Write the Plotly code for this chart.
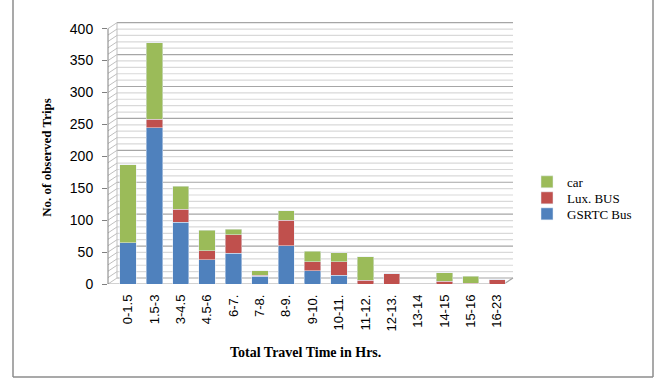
import plotly.graph_objects as go

categories = ["0-1.5", "1.5-3", "3-4.5", "4.5-6", "6-7.", "7-8.", "8-9.", "9-10.",
              "10-11.", "11-12.", "12-13.", "13-14", "14-15", "15-16", "16-23"]
gsrtc_bus = [65, 245, 97, 38, 48, 12, 60, 21, 14, 0, 0, 0, 0, 0, 0]
lux_bus = [0, 13, 20, 14, 29, 2, 40, 14, 21, 6, 16, 0, 4, 1, 7]
car = [122, 120, 36, 32, 9, 7, 15, 16, 14, 37, 0, 0, 14, 11, 0]
y_ticks = [0, 50, 100, 150, 200, 250, 300, 350, 400]

# layout geometry (pixels)
W, H = 659, 378
PL, PR, PT, PB = 108, 513, 21.35, 284
pw, ph = PR - PL, PB - PT
def px(x):
    return (x - PL) / pw
def py(y):
    return (PB - y) / ph

DEPTH = 9.4      # 3D depth offset in value units
DX = 9 / pw      # 3D depth offset in paper units

fig = go.Figure()
fig.add_bar(x=categories, y=gsrtc_bus, name="GSRTC Bus", marker_color="#4F81BD", legend="legend3")
fig.add_bar(x=categories, y=lux_bus, name="Lux. BUS", marker_color="#C0504D", legend="legend2")
fig.add_bar(x=categories, y=car, name="car", marker_color="#9BBB59", legend="legend")

shapes = []
for v in range(0, 401, 10):
    major = v % 50 == 0
    col = "#a6a6a6" if major else "#d9d9d9"
    shapes.append(dict(type="line", xref="paper", yref="y", x0=DX, x1=1,
                       y0=v + DEPTH, y1=v + DEPTH, line=dict(color=col, width=1.2),
                       layer="below"))
    shapes.append(dict(type="line", xref="paper", yref="y", x0=0, x1=DX,
                       y0=v, y1=v + DEPTH, line=dict(color="#bfbfbf", width=1),
                       layer="below"))
# back wall left edge and floor
shapes.append(dict(type="line", xref="paper", yref="y", x0=DX, x1=DX, y0=DEPTH, y1=400 + DEPTH,
                   line=dict(color="#bfbfbf", width=1), layer="below"))
shapes.append(dict(type="line", xref="paper", yref="y", x0=0, x1=1 - DX, y0=0, y1=0,
                   line=dict(color="#a6a6a6", width=1.2), layer="below"))
shapes.append(dict(type="line", xref="paper", yref="y", x0=1 - DX, x1=1, y0=0, y1=DEPTH,
                   line=dict(color="#a6a6a6", width=1.2), layer="below"))
# y axis line
shapes.append(dict(type="line", xref="paper", yref="y", x0=0, x1=0, y0=0, y1=400,
                   line=dict(color="#808080", width=1)))
# outer frame
fl, fr, fb, ft = px(13), px(653), py(377), py(-2)
for (x0, y0, x1, y1) in [(fl, fb, fl, ft), (fl, fb, fr, fb), (fr, fb, fr, ft)]:
    shapes.append(dict(type="line", xref="paper", yref="paper", x0=x0, y0=y0, x1=x1, y1=y1,
                       line=dict(color="#8c8c8c", width=1.5)))

def leg(ycenter):
    return dict(x=px(527), y=py(ycenter), xanchor="left", yanchor="middle",
                font=dict(family="Liberation Serif", size=13, color="#000"),
                itemwidth=30, bgcolor="rgba(0,0,0,0)")

fig.update_layout(
    width=W, height=H,
    margin=dict(l=PL, r=W - PR, t=PT, b=H - PB, pad=0),
    barmode="stack", bargap=0.38,
    paper_bgcolor="white", plot_bgcolor="white",
    showlegend=True,
    legend=leg(182), legend2=leg(198), legend3=leg(214),
    shapes=shapes,
    xaxis=dict(range=[-0.76, 14.6], tickangle=-90, showgrid=False, showline=False,
               ticks="", ticklen=0, ticklabelstandoff=7,
               tickfont=dict(family="Liberation Sans", size=13, color="#000"),
               zeroline=False),
    yaxis=dict(range=[0, 412], tickvals=y_ticks, showgrid=False, showline=False, zeroline=False,
               ticks="outside", ticklen=5, tickcolor="#808080", ticklabelstandoff=6,
               tickfont=dict(family="Liberation Sans", size=14, color="#000")),
    annotations=[
        dict(text="<b>Total Travel Time in Hrs.</b>", xref="paper", yref="paper",
             x=px(305), y=py(352), xanchor="center", yanchor="middle", showarrow=False,
             font=dict(family="Liberation Serif", size=14, color="#000")),
        dict(text="<b>No. of observed Trips</b>", xref="paper", yref="paper",
             x=px(47), y=py(157), xanchor="center", yanchor="middle", showarrow=False,
             textangle=-90, font=dict(family="Liberation Serif", size=13, color="#000")),
    ],
)

fig.write_html("out.html")
